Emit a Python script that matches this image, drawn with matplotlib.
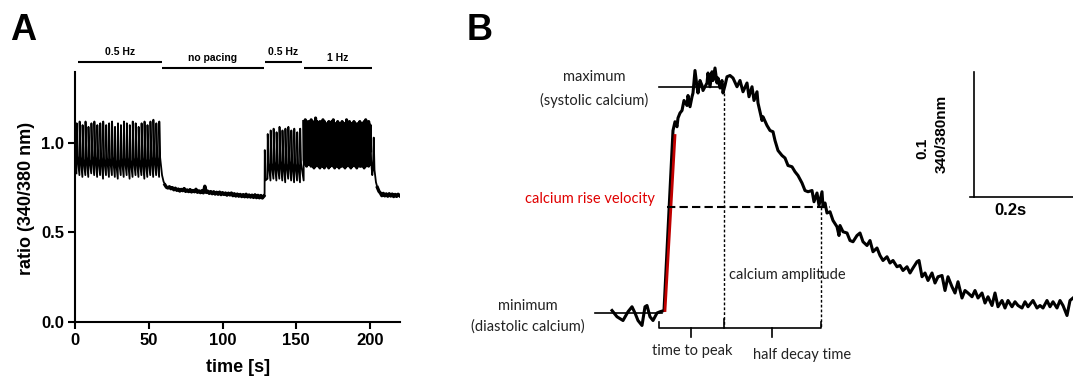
import matplotlib
matplotlib.use('Agg')
import matplotlib.pyplot as plt
import numpy as np

# ---------------- panel A data (ratio 340/380 nm over time in s) ----------------
protocol_labels = ['0.5 Hz', 'no pacing', '0.5 Hz', '1 Hz']
protocol_start = [2, 59, 128.5, 155]
protocol_end = [59, 128, 154, 201]

# first 0.5 Hz period: one peak / trough per paced transient
beats1_onset = np.arange(1, 59, 2)
beats1_peak = [1.11, 1.12, 1.10, 1.12, 1.09, 1.11, 1.12, 1.10, 1.11, 1.12,
               1.10, 1.11, 1.12, 1.09, 1.11, 1.10, 1.12, 1.11, 1.10, 1.12,
               1.11, 1.09, 1.11, 1.12, 1.10, 1.12, 1.13, 1.11, 1.12]
beats1_trough = [0.83, 0.82, 0.81, 0.82, 0.81, 0.83, 0.82, 0.81, 0.82, 0.80,
                 0.82, 0.81, 0.82, 0.81, 0.80, 0.82, 0.81, 0.82, 0.80, 0.81,
                 0.82, 0.81, 0.82, 0.80, 0.81, 0.82, 0.81, 0.82, 0.81]

# no pacing, one reading per second from 59 s to 128 s
rest1_t = np.arange(59, 129)
rest1_ratio = [0.820, 0.785, 0.765, 0.752, 0.748, 0.755, 0.744, 0.750, 0.738, 0.747,
               0.735, 0.742, 0.731, 0.740, 0.733, 0.745, 0.729, 0.737, 0.728, 0.739,
               0.726, 0.734, 0.727, 0.741, 0.724, 0.732, 0.722, 0.733, 0.721, 0.758,
               0.723, 0.730, 0.718, 0.728, 0.716, 0.727, 0.714, 0.724, 0.713, 0.725,
               0.711, 0.722, 0.712, 0.720, 0.708, 0.719, 0.709, 0.720, 0.705, 0.716,
               0.703, 0.714, 0.702, 0.712, 0.700, 0.711, 0.699, 0.713, 0.698, 0.709,
               0.697, 0.708, 0.695, 0.710, 0.694, 0.707, 0.693, 0.706, 0.692, 0.703]

# second 0.5 Hz period
beats2_onset = np.arange(128.5, 154, 2)
beats2_peak = [0.96, 1.05, 1.07, 1.08, 1.06, 1.09, 1.07, 1.08, 1.09, 1.07, 1.08, 1.06, 1.08]
beats2_trough = [0.70, 0.80, 0.79, 0.80, 0.79, 0.80, 0.79, 0.78, 0.80, 0.79, 0.78, 0.79, 0.78]

# 1 Hz period
beats3_onset = np.arange(155, 201, 1)
beats3_peak = [1.12, 1.13, 1.11, 1.12, 1.10, 1.13, 1.12, 1.11, 1.14, 1.12,
               1.10, 1.12, 1.11, 1.13, 1.12, 1.10, 1.11, 1.12, 1.10, 1.12,
               1.13, 1.11, 1.10, 1.12, 1.11, 1.09, 1.12, 1.10, 1.11, 1.13,
               1.10, 1.12, 1.11, 1.10, 1.12, 1.11, 1.09, 1.11, 1.12, 1.10,
               1.11, 1.12, 1.13, 1.11, 1.12, 1.10]
beats3_trough = [0.79, 0.88, 0.87, 0.88, 0.89, 0.87, 0.88, 0.86, 0.87, 0.88,
                 0.87, 0.86, 0.88, 0.87, 0.86, 0.87, 0.88, 0.86, 0.87, 0.88,
                 0.87, 0.86, 0.87, 0.88, 0.86, 0.87, 0.87, 0.88, 0.86, 0.87,
                 0.88, 0.87, 0.86, 0.87, 0.88, 0.87, 0.86, 0.88, 0.87, 0.87,
                 0.88, 0.86, 0.87, 0.88, 0.87, 0.88]

# after pacing stops
rest2_t = [201, 201.5, 202, 202.5, 203, 204, 205, 206, 207, 208, 209, 210, 211,
           212, 213, 214, 215, 216, 217, 218, 219, 220]
rest2_ratio = [0.87, 0.82, 0.86, 1.03, 0.85, 0.78, 0.75, 0.73, 0.72, 0.705, 0.718,
               0.704, 0.715, 0.702, 0.716, 0.703, 0.714, 0.700, 0.712, 0.701, 0.713, 0.705]

# shape of one transient within its pacing period (fraction of period, fraction of amplitude)
shape_phase = [0.0, 0.07, 0.35]
shape_level = [0.0, 1.0, 0.35]

# ---------------- panel B data (single transient, time in ms) ----------------
ca_t = [0, 10, 22, 32, 40, 46, 52, 60, 66, 70, 76, 82, 90, 96, 104,
        122, 126, 130, 132, 136, 140, 144, 150, 152, 156, 160, 162, 166, 170, 172,
        176, 180, 182, 190, 192, 196, 200, 202, 206, 210, 212, 216, 220, 222, 226,
        230, 236, 242, 250, 256, 262, 270, 274, 280, 284, 290, 292, 300, 302, 310,
        316, 322, 326, 332, 340, 346, 352, 360, 366, 372, 380, 386, 392, 400, 404,
        410, 414, 420, 422, 426, 430, 436, 442, 450, 454, 456, 462, 470, 476, 482,
        490, 496, 502, 510, 516, 522, 530, 536, 542, 550, 556, 562, 570, 576, 582,
        590, 596, 602, 610, 614, 620, 626, 632, 640, 646, 652, 660, 666, 672, 680,
        686, 692, 700, 706, 712, 720, 726, 732, 740, 746, 752, 760, 766, 772, 780,
        786, 792, 800, 806, 812, 820, 826, 832, 842, 850, 856, 862, 870, 876, 882,
        890, 896, 902, 910, 916, 922]
ca_ratio = [0.702, 0.697, 0.694, 0.701, 0.705, 0.700, 0.694, 0.690, 0.705, 0.706,
            0.697, 0.694, 0.700, 0.701, 0.702,
            0.846, 0.853, 0.849, 0.856, 0.860, 0.862, 0.870, 0.866, 0.874, 0.865,
            0.873, 0.876, 0.894, 0.881, 0.876, 0.886, 0.882, 0.878, 0.884, 0.892,
            0.881, 0.893, 0.886, 0.896, 0.884, 0.888, 0.880, 0.886, 0.876, 0.882,
            0.889, 0.890, 0.888, 0.881, 0.886, 0.877, 0.884, 0.873, 0.881, 0.870,
            0.877, 0.868, 0.854, 0.857, 0.850, 0.846, 0.845, 0.838, 0.830, 0.826,
            0.824, 0.818, 0.817, 0.813, 0.810, 0.804, 0.798, 0.797, 0.798, 0.789,
            0.796, 0.786, 0.797, 0.785, 0.788, 0.780, 0.781, 0.774, 0.769, 0.762,
            0.770, 0.765, 0.764, 0.758, 0.757, 0.762, 0.764, 0.757, 0.754, 0.758,
            0.749, 0.752, 0.746, 0.742, 0.745, 0.740, 0.742, 0.737, 0.738, 0.734,
            0.737, 0.732, 0.736, 0.741, 0.742, 0.729, 0.732, 0.726, 0.732, 0.724,
            0.729, 0.730, 0.718, 0.729, 0.721, 0.716, 0.725, 0.712, 0.718, 0.716,
            0.713, 0.718, 0.712, 0.716, 0.708, 0.713, 0.706, 0.716, 0.705, 0.710,
            0.704, 0.710, 0.705, 0.709, 0.706, 0.704, 0.709, 0.705, 0.710, 0.704,
            0.706, 0.704, 0.710, 0.705, 0.709, 0.704, 0.710, 0.706, 0.698, 0.710,
            0.712]
rise_t = [106, 126]
rise_ratio = [0.702, 0.842]

diastolic = 0.700
systolic = 0.881
half_level = 0.785
t_onset = 94
t_peak = 223
t_half = 418


def paced_trace(onsets, peaks, troughs, period):
    t, y = [], []
    for t0, pk, tr in zip(onsets, peaks, troughs):
        for ph, lv in zip(shape_phase, shape_level):
            t.append(t0 + ph * period)
            y.append(tr + lv * (pk - tr))
    return t, y


t1, y1 = paced_trace(beats1_onset, beats1_peak, beats1_trough, 2.0)
t2, y2 = paced_trace(beats2_onset, beats2_peak, beats2_trough, 2.0)
t3, y3 = paced_trace(beats3_onset, beats3_peak, beats3_trough, 1.0)
trace_t = np.concatenate([t1, rest1_t, t2, t3, rest2_t])
trace_y = np.concatenate([y1, rest1_ratio, y2, y3, rest2_ratio])

W, H = 1073, 378
fig = plt.figure(figsize=(W / 100, H / 100), dpi=100)

arial = 'Liberation Sans'
calibri = 'Lato'

# ---------------- panel A ----------------
ax = fig.add_axes([75 / W, (H - 321.7) / H, 325 / W, 249.7 / H])
ax.plot(trace_t, trace_y, color='black', lw=1.3)
# resting stretches are noisy and look thicker in the recording
ax.plot(rest1_t[2:], rest1_ratio[2:], color='black', lw=2.4)
ax.plot(rest2_t[6:], rest2_ratio[6:], color='black', lw=2.4)
# 1 Hz beats merge into a solid band at this scale
ax.plot(t3[1:], y3[1:], color='black', lw=2.2)
ax.set_xlim(0, 220.3)
ax.set_ylim(0, 1.397)
for side in ['top', 'right']:
    ax.spines[side].set_visible(False)
for side in ['left', 'bottom']:
    ax.spines[side].set_linewidth(1.5)
ax.set_xticks([0, 50, 100, 150, 200])
ax.set_yticks([0, 0.5, 1.0])
ax.set_yticklabels(['0.0', '0.5', '1.0'])
ax.tick_params(direction='out', length=5, width=1.5, labelsize=12, pad=3)
for lab in ax.get_xticklabels() + ax.get_yticklabels():
    lab.set_fontfamily(arial)
    lab.set_fontweight('bold')

bar_y = [1.455, 1.418, 1.455, 1.418]
label_y = [1.51, 1.475, 1.51, 1.475]
for lab, x0, x1, by, ly in zip(protocol_labels, protocol_start, protocol_end, bar_y, label_y):
    ax.plot([x0, x1], [by, by], color='black', lw=1.5, clip_on=False, solid_capstyle='butt')
    ax.text((x0 + x1) / 2, ly, lab, ha='center', va='center', fontsize=7.5,
            fontweight='bold', family=arial)

fig.text(27 / W, 1 - 198 / H, 'ratio (340/380 nm)', rotation=90, ha='center', va='center',
         fontsize=13, fontweight='bold', family=arial)
fig.text(238 / W, 1 - 368 / H, 'time [s]', ha='center', va='center',
         fontsize=13, fontweight='bold', family=arial)
fig.text(23 / W, 1 - 30 / H, 'A', ha='center', va='center', fontsize=26,
         fontweight='bold', family=arial)
fig.text(480 / W, 1 - 30 / H, 'B', ha='center', va='center', fontsize=26,
         fontweight='bold', family=arial)

# ---------------- panel B ----------------
bx = fig.add_axes([460 / W, 0, 613 / W, 1])
bx.set_xlim(-304, 922)
bx.set_ylim(0.648, 0.9504)
bx.axis('off')

bx.plot([-34, 100], [diastolic, diastolic], color='black', lw=1.2)
bx.plot([t_onset, t_peak], [systolic, systolic], color='black', lw=1.2)
bx.plot(ca_t, ca_ratio, color='black', lw=2.2, clip_on=False)
bx.plot(rise_t, rise_ratio, color='#c00000', lw=2.0)
bx.plot([110, 436], [half_level, half_level], color='black', lw=1.5, ls=(0, (4, 2)))
bx.plot([t_peak, t_peak], [0.876, 0.689], color='black', lw=1, ls=(0, (2, 1.5)))
bx.plot([t_half, t_half], [half_level, 0.689], color='black', lw=1, ls=(0, (2, 1.5)))

# brackets for time to peak / half decay time
brk = 0.688
bx.plot([t_onset, t_onset, t_half, t_half], [0.693, brk, brk, 0.693], color='black', lw=1.2)
bx.plot([t_peak, t_peak], [brk, 0.695], color='black', lw=1.2)
for tm in [(t_onset + t_peak) / 2, (t_peak + t_half) / 2]:
    bx.plot([tm, tm], [brk, 0.681], color='black', lw=1.2)

tkw = dict(family=calibri, fontsize=10.5, color='#222222')
bx.text(-36, 0.889, 'maximum', ha='center', va='center', **tkw)
bx.text(-36, 0.870, '(systolic calcium)', ha='center', va='center', **tkw)
bx.text(-168, 0.706, 'minimum', ha='center', va='center', **tkw)
bx.text(-168, 0.689, '(diastolic calcium)', ha='center', va='center', **tkw)
bx.text(160, 0.670, 'time to peak', ha='center', va='center', **tkw)
bx.text(380, 0.666, 'half decay time', ha='center', va='center', **tkw)
bx.text(234, 0.730, 'calcium amplitude', ha='left', va='center', **tkw)
bx.text(86, 0.791, 'calcium rise velocity', ha='right', va='center', family=calibri,
        fontsize=10.5, color='#e00000')

# scale bar
bx.plot([724, 724], [0.793, 0.893], color='black', lw=1.2)
bx.plot([716, 930], [0.793, 0.793], color='black', lw=1.2, clip_on=False)
bx.text(796, 0.782, '0.2s', ha='center', va='center', fontsize=12, fontweight='bold', family=arial)
bx.text(620, 0.832, '0.1', rotation=90, ha='center', va='center', fontsize=11,
        fontweight='bold', family=arial)
bx.text(660, 0.843, '340/380nm', rotation=90, ha='center', va='center', fontsize=11,
        fontweight='bold', family=arial)

fig.savefig('out.png', dpi=100)
